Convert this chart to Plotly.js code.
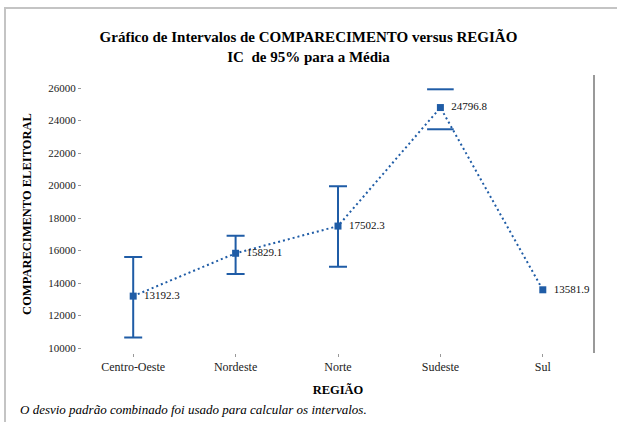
<!DOCTYPE html>
<html>
<head>
<meta charset="utf-8">
<script src="https://cdn.plot.ly/plotly-3.0.1.min.js"></script>
<style>
  html, body { margin: 0; padding: 0; background: #fff; }
  #wrap { position: relative; width: 617px; height: 422px; overflow: hidden; }
  #chart { position: absolute; left: 0; top: 0; width: 617px; height: 422px; }
  #frame { position: absolute; left: 4px; top: 7px; width: 700px; height: 500px;
           border-top: 2px solid #c4c4c4; border-left: 2px solid #c4c4c4; pointer-events: none; }
</style>
</head>
<body>
<div id="wrap">
  <div id="chart"></div>
  <div id="frame"></div>
</div>
<script>
// ---- Data ----
const regions = ['Centro-Oeste', 'Nordeste', 'Norte', 'Sudeste', 'Sul'];
const means   = [13192.3, 15829.1, 17502.3, 24796.8, 13581.9];
const meanLabels = ['13192.3', '15829.1', '17502.3', '24796.8', '13581.9'];
const upperCI = [15600, 16900, 19950, 25920, null];
const lowerCI = [10650, 14550, 15000, 23460, null];
// regions whose interval shows only the caps (no vertical bar) in the reference
const capsOnly = ['Sudeste'];
const yTicks = [10000, 12000, 14000, 16000, 18000, 20000, 22000, 24000, 26000];

const blue = '#1f5ca6';
const serif = 'Liberation Serif, Times New Roman, serif';

// Build error arrays from the CI bounds
const errPlus = [], errMinus = [];
regions.forEach((r, i) => {
  if (upperCI[i] == null || capsOnly.includes(r)) { errPlus.push(NaN); errMinus.push(NaN); }
  else { errPlus.push(upperCI[i] - means[i]); errMinus.push(means[i] - lowerCI[i]); }
});
const capX = [], capY = [];
regions.forEach((r, i) => {
  if (capsOnly.includes(r)) { capX.push(r, r); capY.push(upperCI[i], lowerCI[i]); }
});

const traces = [
  {
    type: 'scatter', mode: 'lines+markers+text',
    x: regions, y: means,
    text: meanLabels.map(s => '\u2002' + s), textposition: 'middle right',
    textfont: { family: serif, size: 11, color: '#111' },
    line: { color: blue, width: 2, dash: '2px,3px' },
    marker: { color: blue, size: 7, symbol: 'square' },
    error_y: { type: 'data', symmetric: false, array: errPlus, arrayminus: errMinus,
               color: blue, thickness: 2, width: 9 },
    cliponaxis: false, hoverinfo: 'x+y', showlegend: false
  },
  {
    type: 'scatter', mode: 'markers',
    x: capX, y: capY,
    marker: { symbol: 'line-ew', size: 19, line: { color: blue, width: 2 } },
    cliponaxis: false, hoverinfo: 'skip', showlegend: false
  }
];

const layout = {
  width: 617, height: 422,
  margin: { l: 82, r: 23, t: 75, b: 69 },
  paper_bgcolor: '#fff', plot_bgcolor: '#fff',
  showlegend: false,
  title: {
    text: '<b>Gráfico de Intervalos de COMPARECIMENTO versus REGIÃO</b><br><b>IC  de 95% para a Média</b>',
    font: { family: serif, size: 15, color: '#000' },
    x: 0.5, xanchor: 'center', xref: 'container',
    y: 0.9, yanchor: 'top', yref: 'container'
  },
  xaxis: {
    type: 'category', categoryarray: regions, range: [-0.5, 4.5],
    showgrid: false, zeroline: false, showline: false,
    ticks: 'outside', ticklen: 3, tickcolor: '#999', tickwidth: 1,
    tickfont: { family: serif, size: 12, color: '#222' },
    title: { text: '<b>REGIÃO</b>', font: { family: serif, size: 12.5, color: '#000' }, standoff: 11 },
    automargin: false, fixedrange: true
  },
  yaxis: {
    range: [9692, 26800],
    tickvals: yTicks, ticktext: yTicks.map(String),
    showgrid: false, zeroline: false, showline: false,
    ticks: 'outside', ticklen: 3, tickcolor: '#999', tickwidth: 1,
    tickfont: { family: serif, size: 11, color: '#222' },
    title: { text: '<b>COMPARECIMENTO ELEITORAL</b>', font: { family: serif, size: 12.5, color: '#000' }, standoff: 13 },
    automargin: false, fixedrange: true
  },
  shapes: [
    { type: 'line', xref: 'paper', yref: 'paper', x0: 1, x1: 1, y0: 0, y1: 1,
      line: { color: '#999', width: 2 } }
  ],
  annotations: [
    { xref: 'paper', yref: 'paper', x: -0.125, y: -0.205, xanchor: 'left', yanchor: 'middle',
      text: '<i>O desvio padrão combinado foi usado para calcular os intervalos.</i>',
      showarrow: false, font: { family: serif, size: 13, color: '#000' } }
  ]
};

Plotly.newPlot('chart', traces, layout, { displayModeBar: false, staticPlot: true });
</script>
</body>
</html>
